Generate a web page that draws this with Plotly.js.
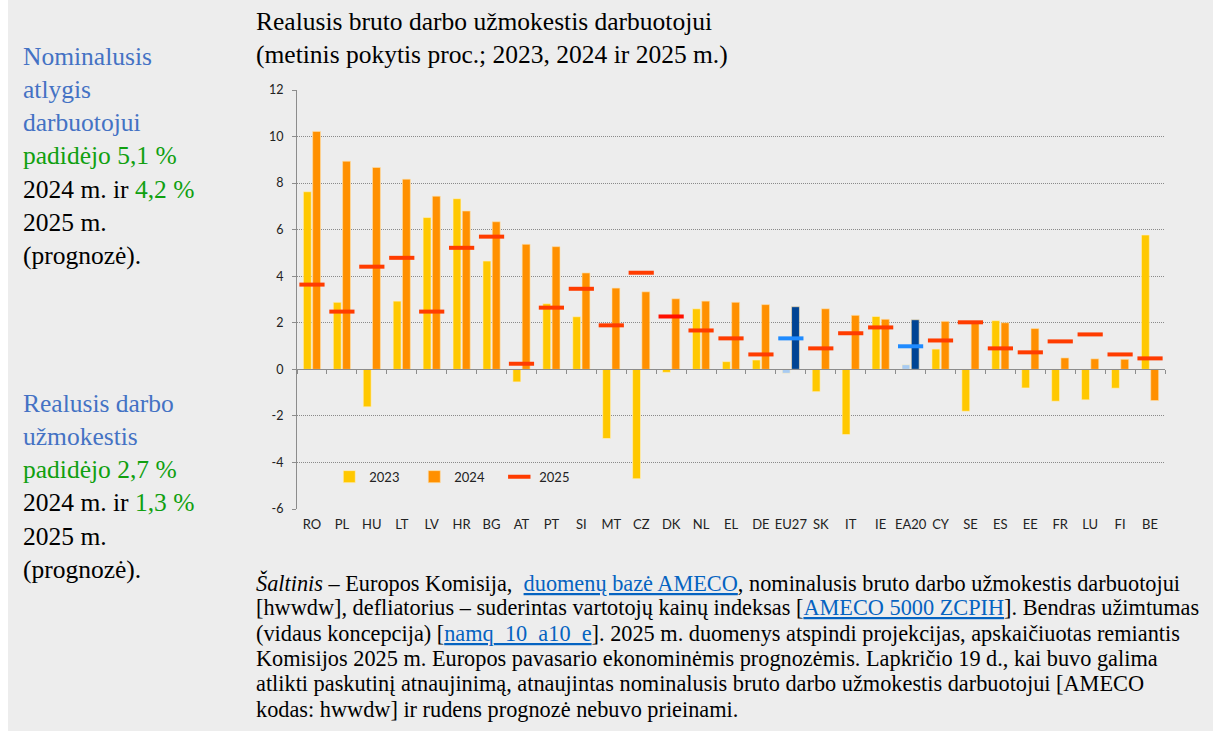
<!DOCTYPE html>
<html>
<head>
<meta charset="utf-8">
<script src="https://cdn.plot.ly/plotly-3.0.1.min.js"></script>
<style>
  html, body { margin: 0; padding: 0; background: #ffffff; }
  #chart { position: absolute; left: 8px; top: 0; width: 1205px; height: 731px; }
</style>
</head>
<body>
<div id="chart"></div>
<script>
// ---- data ----
const categories = ['RO','PL','HU','LT','LV','HR','BG','AT','PT','SI','MT','CZ','DK','NL','EL','DE','EU27','SK','IT','IE','EA20','CY','SE','ES','EE','FR','LU','FI','BE'];
const values2023 = [7.63, 2.88, -1.61, 2.93, 6.52, 7.33, 4.65, -0.54, 2.82, 2.26, -2.97, -4.70, -0.13, 2.60, 0.33, 0.40, -0.17, -0.96, -2.80, 2.27, 0.20, 0.87, -1.80, 2.09, -0.80, -1.37, -1.31, -0.81, 5.77];
const values2024 = [10.22, 8.94, 8.67, 8.17, 7.44, 6.80, 6.34, 5.37, 5.27, 4.14, 3.49, 3.33, 3.03, 2.93, 2.88, 2.78, 2.69, 2.60, 2.32, 2.15, 2.13, 2.06, 2.00, 2.00, 1.75, 0.49, 0.45, 0.43, -1.34];
const values2025 = [3.64, 2.48, 4.41, 4.79, 2.48, 5.22, 5.70, 0.24, 2.65, 3.46, 1.89, 4.15, 2.27, 1.67, 1.33, 0.64, 1.33, 0.90, 1.55, 1.80, 0.99, 1.24, 2.02, 0.90, 0.73, 1.20, 1.50, 0.64, 0.47];
const seriesNames = ['2023', '2024', '2025'];
const yTickValues = [-6, -4, -2, 0, 2, 4, 6, 8, 10, 12];

// ---- styles ----
const aggregates = ['EU27', 'EA20'];
const isAgg = c => aggregates.includes(c);
const col2023 = categories.map(c => isAgg(c) ? '#a8cbf2' : '#ffc800');
const col2024 = categories.map(c => isAgg(c) ? '#004494' : '#ff9000');
const col2025 = categories.map(c => isAgg(c) ? '#1f8bff' : (c === 'DK' ? '#ff1000' : '#ff3c00'));

// plot area in page pixels
const PL = 296.7, PW = 868.3, PT = 90.3, PH = 419;
const DIVX = 8;
const px = X => (X - PL) / PW;
const py = Y => (PT + PH - Y) / PH;

const serif = 'Liberation Serif, Times New Roman, serif';
const sans = 'Lato, Open Sans, sans-serif';
const BLUE = '#4472c4', GREEN = '#10a010', LINK = '#0563c1';

const traces = [
  {
    type: 'bar', name: seriesNames[0], x: categories, y: values2023,
    xaxis: 'x', yaxis: 'y',
    marker: { color: col2023, line: { color: 'rgba(255,240,200,0.6)', width: 1 } },
    hoverinfo: 'x+y'
  },
  {
    type: 'bar', name: seriesNames[1], x: categories, y: values2024,
    xaxis: 'x', yaxis: 'y',
    marker: { color: col2024, line: { color: 'rgba(255,225,170,0.6)', width: 1 } },
    hoverinfo: 'x+y'
  },
  {
    type: 'scatter', mode: 'markers', name: seriesNames[2], x: categories, y: values2025,
    xaxis: 'x2', yaxis: 'y',
    marker: { symbol: 'line-ew', size: 18, color: col2025, line: { color: col2025, width: 4 } },
    hoverinfo: 'x+y'
  }
];

const sp = (c, t) => '<span style="color:' + c + '">' + t + '</span>';
const link = t => '<span style="color:' + LINK + ';text-decoration:underline">' + t + '</span>';

const leftBlock1 = [
  sp(BLUE, 'Nominalusis'),
  sp(BLUE, 'atlygis'),
  sp(BLUE, 'darbuotojui'),
  sp(GREEN, 'padidėjo 5,1 %'),
  '2024 m. ir ' + sp(GREEN, '4,2 %'),
  '2025 m.',
  '(prognozė).'
].join('<br>');

const leftBlock2 = [
  sp(BLUE, 'Realusis darbo'),
  sp(BLUE, 'užmokestis'),
  sp(GREEN, 'padidėjo 2,7 %'),
  '2024 m. ir ' + sp(GREEN, '1,3 %'),
  '2025 m.',
  '(prognozė).'
].join('<br>');

const sourceLines = [
  '<i>Šaltinis</i> – Europos Komisija,  ' + link('duomenų bazė AMECO') + ', nominalusis bruto darbo užmokestis darbuotojui',
  '[hwwdw], defliatorius – suderintas vartotojų kainų indeksas [' + link('AMECO 5000 ZCPIH') + ']. Bendras užimtumas',
  '(vidaus koncepcija) [' + link('namq_10_a10_e') + ']. 2025 m. duomenys atspindi projekcijas, apskaičiuotas remiantis',
  'Komisijos 2025 m. Europos pavasario ekonominėmis prognozėmis. Lapkričio 19 d., kai buvo galima',
  'atlikti paskutinį atnaujinimą, atnaujintas nominalusis bruto darbo užmokestis darbuotojui [AMECO',
  'kodas: hwwdw] ir rudens prognozė nebuvo prieinami.'
];

const annotations = [
  {
    xref: 'paper', yref: 'paper', x: px(254), y: py(5), xanchor: 'left', yanchor: 'top',
    align: 'left', showarrow: false,
    text: 'Realusis bruto darbo užmokestis darbuotojui<br>(metinis pokytis proc.; 2023, 2024 ir 2025 m.)',
    font: { family: serif, size: 25.5, color: '#000000' }
  },
  {
    xref: 'paper', yref: 'paper', x: px(21), y: py(40), xanchor: 'left', yanchor: 'top',
    align: 'left', showarrow: false, text: leftBlock1,
    font: { family: serif, size: 25.5, color: '#000000' }
  },
  {
    xref: 'paper', yref: 'paper', x: px(21), y: py(387), xanchor: 'left', yanchor: 'top',
    align: 'left', showarrow: false, text: leftBlock2,
    font: { family: serif, size: 25.5, color: '#000000' }
  }
];
sourceLines.forEach((t, i) => {
  annotations.push({
    xref: 'paper', yref: 'paper', x: px(254), y: py(568 + 25.4 * i), xanchor: 'left', yanchor: 'top',
    align: 'left', showarrow: false, text: t,
    font: { family: serif, size: 22.3, color: '#000000' }
  });
});

const layout = {
  width: 1205, height: 731,
  margin: { l: PL - DIVX, r: 1213 - (PL + PW), t: PT, b: 731 - (PT + PH), pad: 0 },
  paper_bgcolor: '#ededed', plot_bgcolor: '#ededed',
  barmode: 'group', bargap: 0.38, bargroupgap: 0.15,
  showlegend: true,
  legend: {
    orientation: 'h', x: px(329), y: py(477), xanchor: 'left', yanchor: 'middle',
    bgcolor: 'rgba(0,0,0,0)', font: { family: sans, size: 13, color: '#222' },
    entrywidth: 40, entrywidthmode: 'pixels', itemwidth: 30, traceorder: 'normal'
  },
  xaxis: {
    type: 'category', categoryorder: 'array', categoryarray: categories,
    range: [-0.5, categories.length - 0.5],
    anchor: 'free', position: 6 / 18,
    showline: true, linecolor: '#8c8c8c', linewidth: 1.2,
    ticks: 'outside', tickson: 'boundaries', ticklen: 4, tickcolor: '#8c8c8c', tickwidth: 1.2,
    showticklabels: false, showgrid: false, zeroline: false, fixedrange: true
  },
  xaxis2: {
    type: 'category', categoryorder: 'array', categoryarray: categories,
    range: [-0.5, categories.length - 0.5],
    overlaying: 'x', anchor: 'y', side: 'bottom',
    showline: false, ticks: '', showgrid: false, zeroline: false,
    tickfont: { family: sans, size: 13, color: '#222' }, ticklabelstandoff: 6, fixedrange: true
  },
  yaxis: {
    range: [-6, 12], tickvals: yTickValues, ticktext: yTickValues.map(String),
    showline: true, linecolor: '#8c8c8c', linewidth: 1.2,
    ticks: 'outside', ticklen: 4, tickcolor: '#8c8c8c', tickwidth: 1.2,
    showgrid: true, gridcolor: '#8a8a8a', griddash: '1px,1px', gridwidth: 1,
    zeroline: false, tickfont: { family: sans, size: 12.5, color: '#222' },
    ticklabelstandoff: 6, fixedrange: true
  },
  annotations: annotations
};

Plotly.newPlot('chart', traces, layout, { displayModeBar: false, responsive: false });
</script>
</body>
</html>
